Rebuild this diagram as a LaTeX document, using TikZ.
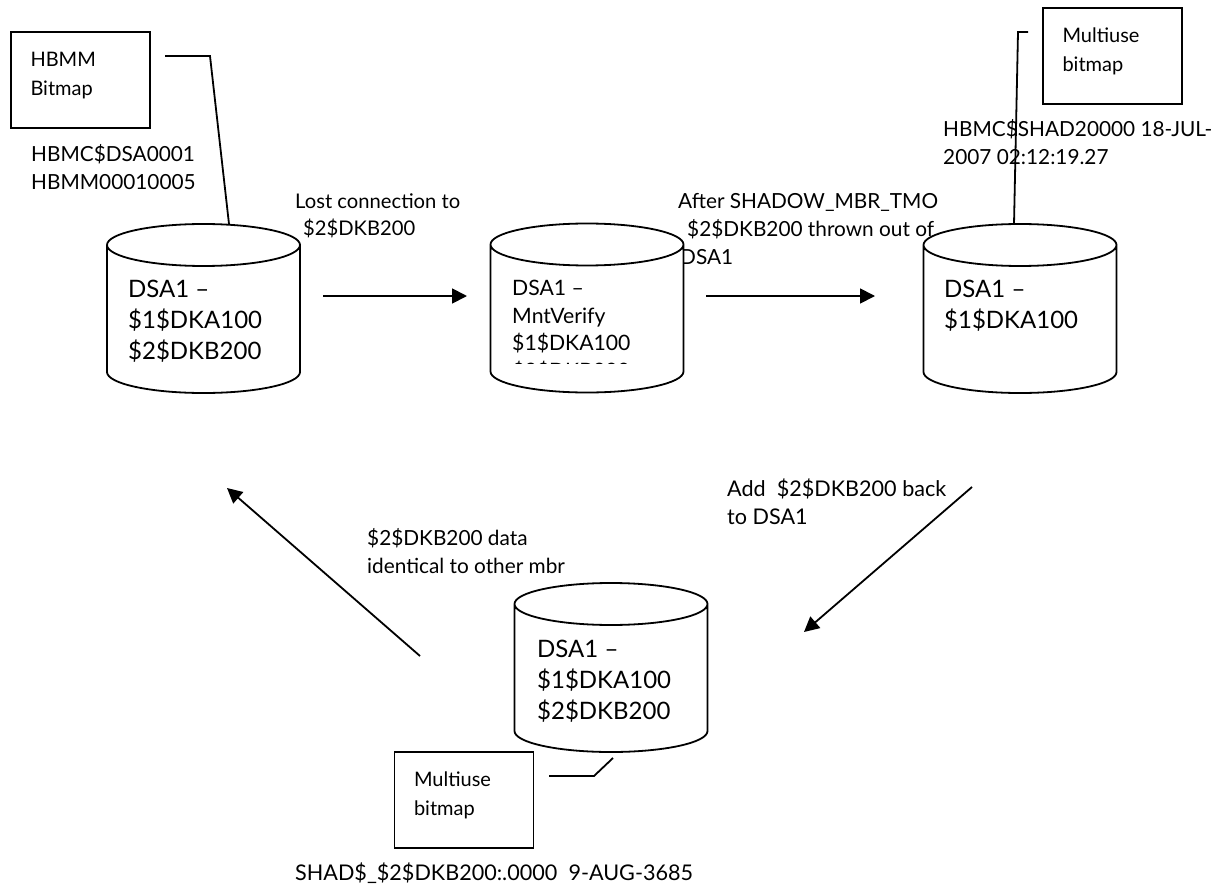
\documentclass[tikz,border=0pt]{standalone}
\usepackage{fontspec}
\setmainfont{Lato}
\usetikzlibrary{shapes.geometric,arrows.meta,positioning}
\tikzset
{
	disk/.style = {cylinder, draw=black, fill=white, line width=1.8pt, shape border rotate=90, shape aspect=0.247, minimum width=193pt, minimum height=169pt, text width=170pt, inner sep=0pt, anchor=shape center},
	bitmapbox/.style = {rectangle, draw=black, line width=1.8pt, align=left, minimum width=139pt, minimum height=96pt, text width=100pt, inner xsep=19.5pt, inner ysep=0pt, font=\fontsize{20}{29}\selectfont},
	tag/.style = {align=left, anchor=north west, inner sep=0pt, font=\fontsize{20.8}{28}\selectfont},
	widetag/.style = {tag, font=\fontsize{21.6}{28}\selectfont},
	narrowtag/.style = {tag, font=\fontsize{20.2}{27}\selectfont},
	verifytag/.style = {tag, font=\fontsize{21.2}{27.5}\selectfont},
	disktext/.style = {align=left, anchor=north west, inner sep=0pt, font=\fontsize{24}{31}\selectfont},
	link/.style = {line width=1.8pt},
	flow/.style = {line width=1.8pt, -{Triangle[length=15pt,width=15pt]}}
}

\begin{document}
\begin{tikzpicture}[x=1pt,y=-1pt]
\useasboundingbox (0,0) rectangle (1228,886);
% labels that the disks partly cover
\node[narrowtag] (lost) at (295,193) {Lost connection to\\\hspace*{8pt}\$2\$DKB200};
\node[tag] (after) at (678,193) {After SHADOW\_MBR\_TMO\\\hspace*{9pt}\$2\$DKB200 thrown out of\\\hspace*{2pt}DSA1};
\node[tag] (hbmcname) at (31,144) {HBMC\$DSA0001\\HBMM00010005};
\node[tag] (shadname) at (943,119) {HBMC\$SHAD20000 18-JUL-\\2007 02:12:19.27};
\node[widetag] (add) at (727,479) {Add\ \ \$2\$DKB200 back\\to DSA1};
\node[tag] (same) at (367,528) {\$2\$DKB200 data\\identical to other mbr};
\node[widetag] (mbrname) at (295,863) {SHAD\$\_\$2\$DKB200:.0000\ \ 9-AUG-3685};
% disks
\node[disk] (diskfull) at (203.5,308.5) {};
\node[disk] (diskverify) at (587,308) {};
\node[disk] (diskout) at (1020,308.5) {};
\node[disk] (diskback) at (611,667.5) {};
\node[disktext] (fulltext) at (128,280) {DSA1 –\\\$1\$DKA100\\\$2\$DKB200};
\begin{scope}
	\clip (495,270) rectangle (680,363);
	\node[verifytag] (verifytext) at (512,280) {DSA1 –\\MntVerify\\\$1\$DKA100\\\$2\$DKB200};
\end{scope}
\node[disktext] (outtext) at (944,280) {DSA1 –\\\$1\$DKA100};
\node[disktext] (backtext) at (537,640) {DSA1 –\\\$1\$DKA100\\\$2\$DKB200};
% bitmaps
\node[bitmapbox] (hbmm) at (80.5,80) {HBMM\\Bitmap\\[-17pt]\ };
\node[bitmapbox] (multitop) at (1112.5,56) {Multiuse\\bitmap\\[-17pt]\ };
\node[bitmapbox] (multiback) at (464,800) {Multiuse\\bitmap\\[-17pt]\ };
% free ends
\coordinate (hbmmend) at (165,56);
\coordinate (hbmmbend) at (210,56);
\coordinate (hbmmdisk) at (229,224);
\coordinate (topend) at (1028,32);
\coordinate (topbend) at (1018,32);
\coordinate (topdisk) at (1014,224);
\coordinate (backend) at (549,776);
\coordinate (backbend) at (594,776);
\coordinate (backdisk) at (613,758);
\coordinate (lostfrom) at (323,296);
\coordinate (lostto) at (467,296);
\coordinate (afterfrom) at (706,296);
\coordinate (afterto) at (875,296);
\coordinate (addfrom) at (972,487);
\coordinate (addto) at (804,632);
\coordinate (samefrom) at (420,656);
\coordinate (sameto) at (227,488);
% connectors
\draw[link] (hbmmend) -- (hbmmbend) -- (hbmmdisk);
\draw[link] (topend) -- (topbend) -- (topdisk);
\draw[link] (backend) -- (backbend) -- (backdisk);
\draw[flow] (lostfrom) -- (lostto);
\draw[flow] (afterfrom) -- (afterto);
\draw[flow] (addfrom) -- (addto);
\draw[flow] (samefrom) -- (sameto);
\end{tikzpicture}
\end{document}
